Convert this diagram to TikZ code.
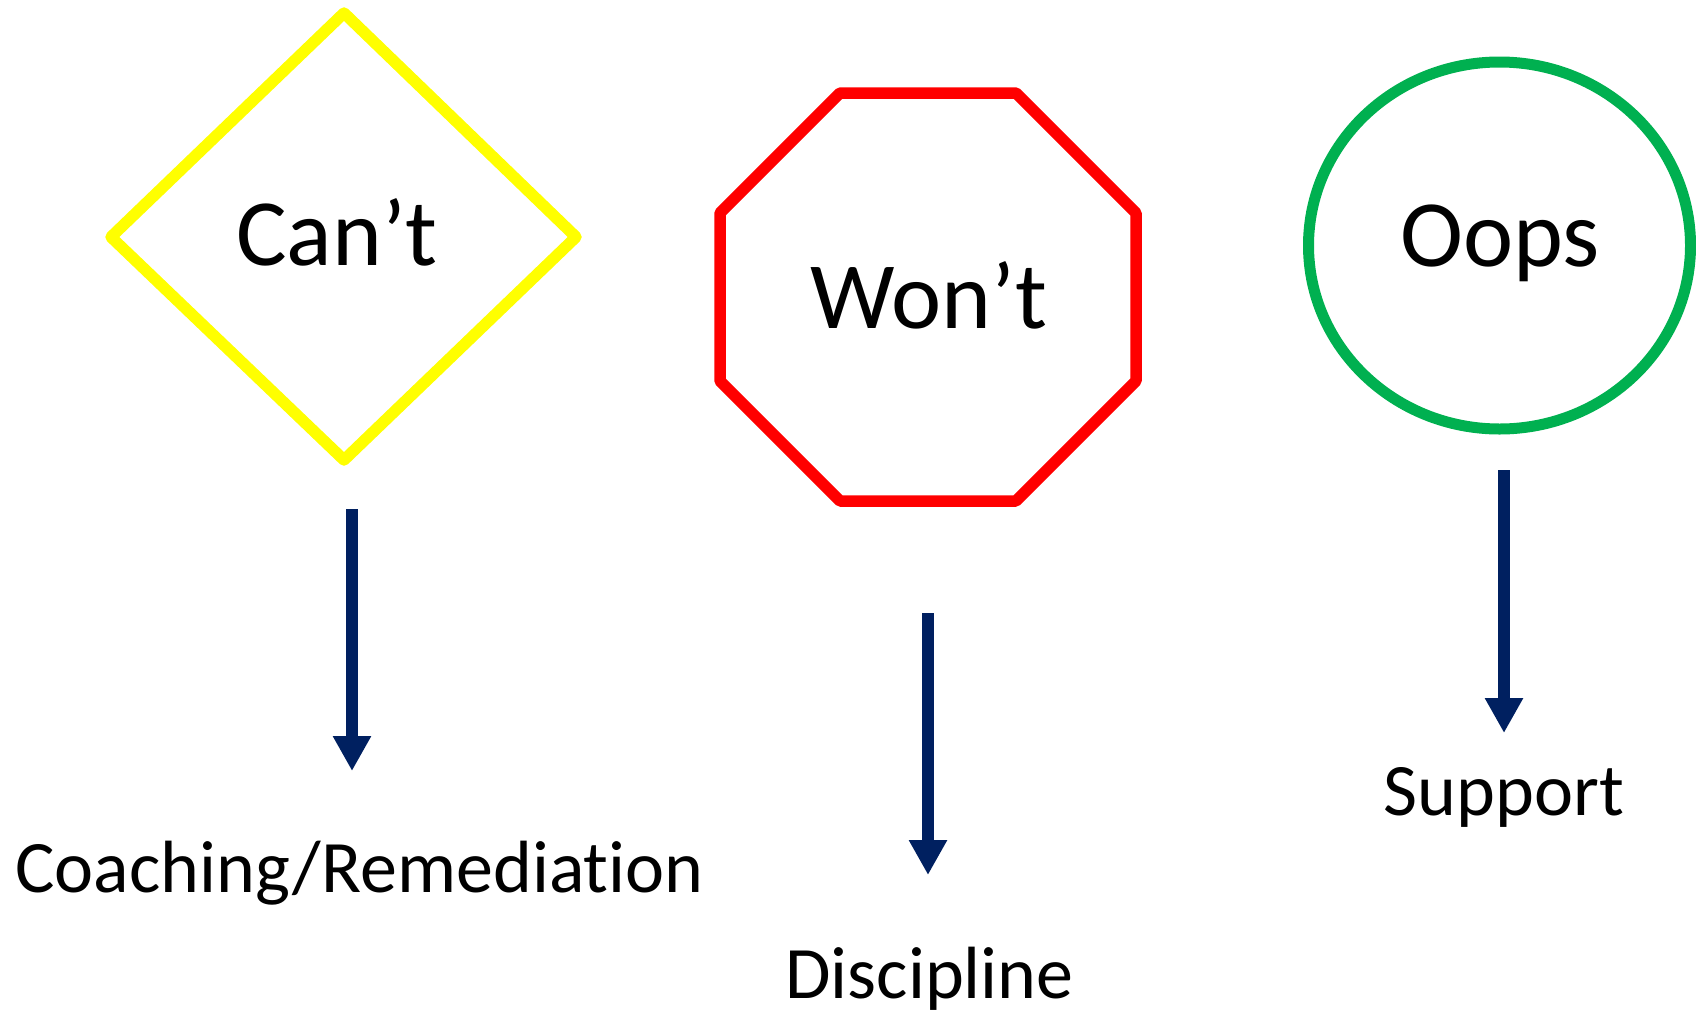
\documentclass[tikz,border=0pt]{standalone}
\usepackage{fontspec}
\setmainfont[Ligatures=NoCommon]{Carlito}
\usetikzlibrary{arrows.meta}
\definecolor{signyellow}{HTML}{FFFF00}
\definecolor{signred}{HTML}{FF0000}
\definecolor{signgreen}{HTML}{00B050}
\definecolor{navyarrow}{HTML}{002060}
\begin{document}
\begin{tikzpicture}[x=1pt,y=-1pt,
  signline/.style={line width=11.5pt, line join=round},
  bigword/.style={anchor=base, inner sep=0pt, font=\fontsize{95}{110}\selectfont},
  outcome/.style={anchor=base, inner sep=0pt, font=\fontsize{74}{88}\selectfont},
  downarrow/.style={draw=navyarrow, line width=12pt,
    -{Triangle[width=36pt,length=35pt]}, fill=navyarrow}]
\useasboundingbox (0,0) rectangle (1696,1010);

% three signs
\draw[signline, signyellow] (344,13) -- (576,237) -- (344,460) -- (111,237) -- cycle;
\draw[signline, signred] (840,93) -- (1016,93) -- (1136,213) -- (1136,381)
  -- (1016,501) -- (840,501) -- (720,381) -- (720,213) -- cycle;
\draw[signline, signgreen, line width=11pt] (1499.5,245.5) ellipse [x radius=191, y radius=183.5];

% words inside the signs
\node[bigword] (cant) at (337,265.7) {Can’t};
\node[bigword] (wont) at (929,328.3) {Won’t};
\node[bigword] (oops) at (1500,266) {Oops};

% arrow ends
\coordinate (a1) at (352,509);  \coordinate (b1) at (352,771);
\coordinate (a2) at (928,613);  \coordinate (b2) at (928,875);
\coordinate (a3) at (1504,470); \coordinate (b3) at (1504,733);
\draw[downarrow] (a1) -- (b1);
\draw[downarrow] (a2) -- (b2);
\draw[downarrow] (a3) -- (b3);

% outcomes
\node[outcome] (coach) at (359.5,892.3) {Coaching/Remediation};
\node[outcome] (disc) at (929.5,998.3) {Discipline};
\node[outcome] (supp) at (1504,815) {Support};
\end{tikzpicture}
\end{document}
